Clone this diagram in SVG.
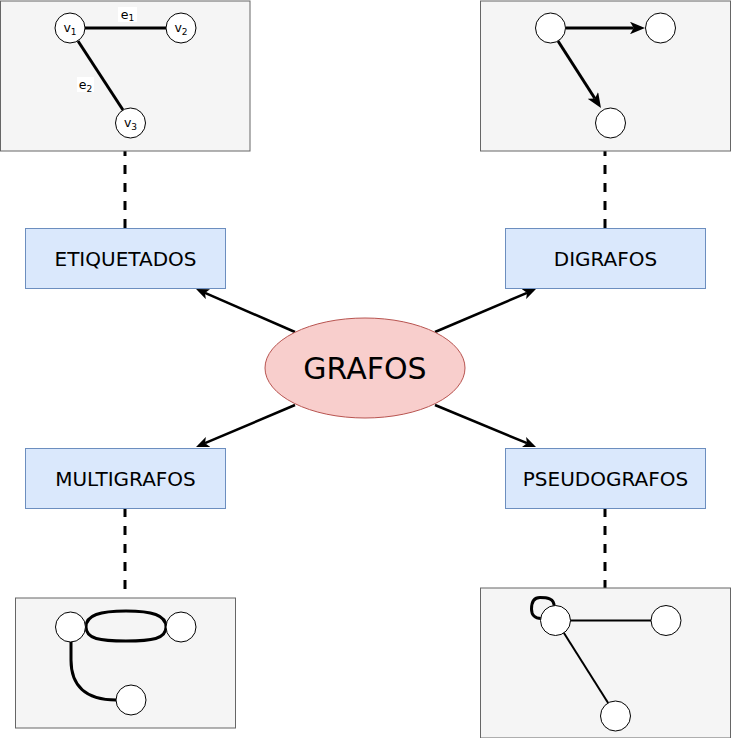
<svg xmlns="http://www.w3.org/2000/svg" width="731" height="738" viewBox="0 0 731 738">
  <defs>
    <style>
      .panel { fill: #f5f5f5; stroke: #666666; stroke-width: 1; }
      .box { fill: #dae8fc; stroke: #6c8ebf; stroke-width: 1; }
      .vert { fill: #ffffff; stroke: #000000; stroke-width: 1; }
      .edge { fill: none; stroke: #000000; stroke-width: 3; }
      .edge2 { fill: none; stroke: #000000; stroke-width: 2; }
      .conn { fill: none; stroke: #000000; stroke-width: 2.5; }
      .dash { fill: none; stroke: #000000; stroke-width: 3; stroke-dasharray: 9 9; }
      .label { font-family: "DejaVu Sans", Verdana, sans-serif; font-size: 20px; fill: #000000; text-anchor: middle; }
      .small { font-family: "DejaVu Sans", Verdana, sans-serif; font-size: 12.5px; fill: #000000; text-anchor: middle; }
      .sub { font-size: 9px; }
    </style>
    <marker id="arr" viewBox="0 0 12 10" refX="3" refY="5" markerWidth="13" markerHeight="11" markerUnits="userSpaceOnUse" orient="auto">
      <path d="M0,0 L12,5 L0,10 L3,5 Z" fill="#000000"/>
    </marker>
    <marker id="arrBig" viewBox="0 0 12 10" refX="3" refY="5" markerWidth="15" markerHeight="12.5" markerUnits="userSpaceOnUse" orient="auto">
      <path d="M0,0 L12,5 L0,10 L3,5 Z" fill="#000000"/>
    </marker>
  </defs>
  <rect width="731" height="738" fill="#ffffff"/>

  <g id="connectors">
    <line class="conn" x1="295" y1="332" x2="205" y2="292.9" marker-end="url(#arr)"/>
    <line class="conn" x1="435" y1="332" x2="527" y2="292.8" marker-end="url(#arr)"/>
    <line class="conn" x1="295" y1="405" x2="205" y2="443.2" marker-end="url(#arr)"/>
    <line class="conn" x1="435" y1="405" x2="527" y2="443.2" marker-end="url(#arr)"/>
    <line class="dash" x1="125" y1="228" x2="125" y2="151"/>
    <line class="dash" x1="605" y1="228" x2="605" y2="151"/>
    <line class="dash" x1="125" y1="508" x2="125" y2="598"/>
    <line class="dash" x1="605" y1="508" x2="605" y2="588"/>
  </g>

  <g id="etiquetados-example">
    <rect class="panel" x="0.5" y="1" width="249.5" height="150"/>
    <line class="edge" x1="85" y1="28" x2="166" y2="28"/>
    <line class="edge" x1="78" y1="41" x2="123" y2="110"/>
    <rect x="118" y="7" width="19" height="15" fill="#ffffff"/>
    <text class="small" x="127.5" y="18.5">e<tspan class="sub" dy="2.5">1</tspan></text>
    <rect x="77" y="77" width="17" height="15" fill="#ffffff"/>
    <text class="small" x="85.5" y="89">e<tspan class="sub" dy="2.5">2</tspan></text>
    <circle class="vert" cx="70" cy="28" r="15"/>
    <text class="small" x="70" y="32">v<tspan class="sub" dy="2.5">1</tspan></text>
    <circle class="vert" cx="181" cy="28" r="15"/>
    <text class="small" x="181" y="32">v<tspan class="sub" dy="2.5">2</tspan></text>
    <circle class="vert" cx="130.5" cy="123" r="15"/>
    <text class="small" x="130.5" y="127">v<tspan class="sub" dy="2.5">3</tspan></text>
  </g>

  <g id="digrafos-example">
    <rect class="panel" x="480.5" y="1" width="250" height="150"/>
    <line class="edge" x1="566" y1="28" x2="633.75" y2="28" marker-end="url(#arrBig)"/>
    <line class="edge" x1="558" y1="41" x2="594.9" y2="98.5" marker-end="url(#arrBig)"/>
    <circle class="vert" cx="550.5" cy="28" r="15"/>
    <circle class="vert" cx="660.5" cy="28" r="15"/>
    <circle class="vert" cx="610.5" cy="123" r="15"/>
  </g>

  <g id="multigrafos-example">
    <rect class="panel" x="15.5" y="598" width="220" height="130"/>
    <path class="edge" d="M86,627 C86,615 100,611 126,611 C152,611 166,615 166,627"/>
    <path class="edge" d="M86,627 C86,639 100,641 126,641 C152,641 166,639 166,627"/>
    <path class="edge" d="M71,642 L71,660 C71,685 85,700 116,700"/>
    <circle class="vert" cx="70.5" cy="627" r="15"/>
    <circle class="vert" cx="181" cy="627" r="15"/>
    <circle class="vert" cx="131" cy="700" r="15"/>
  </g>

  <g id="pseudografos-example">
    <rect class="panel" x="480.5" y="588" width="250" height="150"/>
    <path class="edge" d="M554,607 C555,598 546,597.5 540,597.5 C533,597.5 531.5,603 531.5,609 C531.5,615 535,618.5 541,618.5"/>
    <line class="edge2" x1="570" y1="620.5" x2="651" y2="620.5"/>
    <line class="edge2" x1="563.3" y1="632" x2="608.3" y2="703.3"/>
    <circle class="vert" cx="555.5" cy="620.5" r="15"/>
    <circle class="vert" cx="666" cy="620.5" r="15"/>
    <circle class="vert" cx="615.5" cy="716" r="15"/>
  </g>

  <g id="etiquetados">
    <rect class="box" x="25.5" y="228.5" width="200" height="60"/>
    <text class="label" x="125.5" y="266">ETIQUETADOS</text>
  </g>
  <g id="digrafos">
    <rect class="box" x="505.5" y="228.5" width="200" height="60"/>
    <text class="label" x="605.5" y="266">DIGRAFOS</text>
  </g>
  <g id="multigrafos">
    <rect class="box" x="25.5" y="448.5" width="200" height="60"/>
    <text class="label" x="125.5" y="486">MULTIGRAFOS</text>
  </g>
  <g id="pseudografos">
    <rect class="box" x="505.5" y="448.5" width="200" height="60"/>
    <text class="label" x="605.5" y="486">PSEUDOGRAFOS</text>
  </g>
  <g id="grafos">
    <ellipse cx="365" cy="368" rx="100" ry="50" fill="#f8cecc" stroke="#b85450" stroke-width="1"/>
    <text class="label" x="365" y="379" style="font-size:30px">GRAFOS</text>
  </g>
</svg>
